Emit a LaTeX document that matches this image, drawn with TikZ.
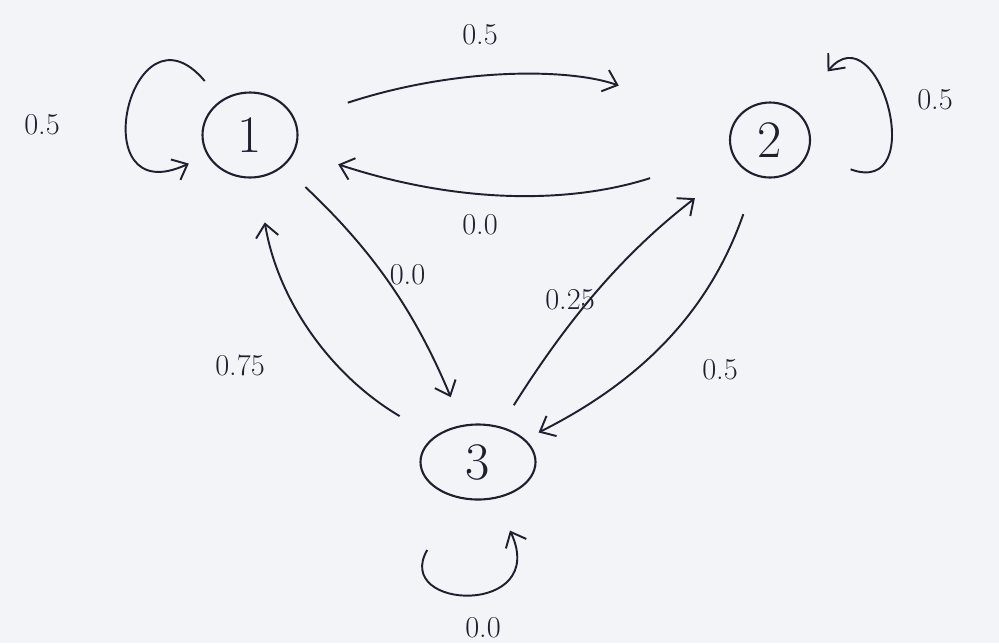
\documentclass[tikz,border=0pt]{standalone}
\usepackage{tikz}
\usetikzlibrary{positioning,shapes.geometric,arrows.meta}
\definecolor{ink}{RGB}{30,32,48}
\definecolor{paper}{RGB}{242,244,248}

\begin{document}
\begin{tikzpicture}[
  st/.style={draw=ink,ellipse,line width=1.2pt,inner sep=0pt,text=ink,font=\fontsize{30}{36}\selectfont},
  lb/.style={font=\LARGE,text=ink},
  arr/.style={-{Straight Barb[length=2.6mm,width=4.5mm]},line width=1.1pt,draw=ink}]
\fill[paper] (0,0) rectangle (19.98,-12.86);
\useasboundingbox (0,0) rectangle (19.98,-12.86);
\node[st,minimum width=19mm,minimum height=17mm] (s1) at (5.0,-2.7) {1};
\node[st,minimum width=16mm,minimum height=15mm] (s2) at (15.4,-2.8) {2};
\node[st,minimum width=23mm,minimum height=15mm] (s3) at (9.56,-9.24) {3};
% transitions between states
\draw[arr,shorten <=11mm,shorten >=24mm] (s1) to[bend left=19] (s2);
\draw[arr,shorten <=17mm,shorten >=9mm] (s2) to[bend left=18] (s1);
\draw[arr,shorten <=6mm,shorten >=6mm] (s1) to[bend left=12] (s3);
\draw[arr,shorten <=8mm,shorten >=9mm] (s3) to[bend left=25] (s1);
\draw[arr,shorten <=5mm,shorten >=11mm] (s3) to[bend left=10] (s2);
\draw[arr,shorten <=8mm,shorten >=3mm] (s2) to[bend left=22] (s3);
% self loops
\draw[arr,shorten <=5mm,shorten >=4mm] (s1) to[out=130,in=205,distance=28mm] (s1);
\draw[arr,shorten <=9mm,shorten >=10mm] (s2) to[out=-20,in=50,distance=26mm] (s2);
\draw[arr,shorten <=12mm,shorten >=7mm] (s3) to[out=-120,in=-65,distance=26mm] (s3);
% probabilities
\node[lb] (l12) at (9.6,-0.7) {0.5};
\node[lb] (l21) at (9.6,-4.5) {0.0};
\node[lb] (l13) at (8.15,-5.5) {0.0};
\node[lb] (l31) at (4.8,-7.3) {0.75};
\node[lb] (l32) at (11.4,-6.0) {0.25};
\node[lb] (l23) at (14.4,-7.4) {0.5};
\node[lb] (l11) at (0.84,-2.5) {0.5};
\node[lb] (l22) at (18.7,-2.0) {0.5};
\node[lb] (l33) at (9.66,-12.56) {0.0};
\end{tikzpicture}
\end{document}
